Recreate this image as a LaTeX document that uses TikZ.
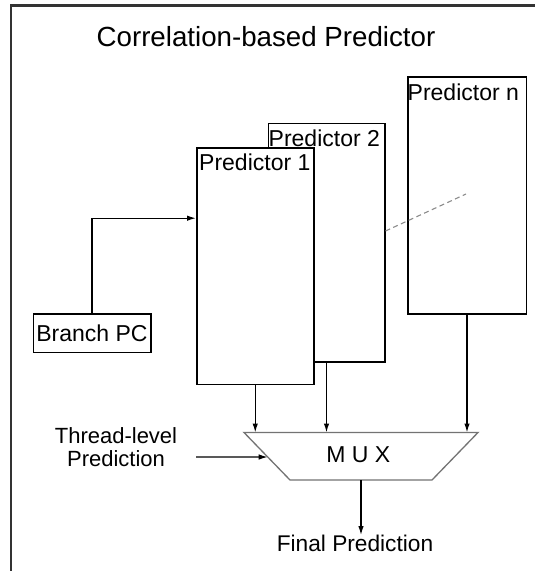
\documentclass[tikz,border=0pt]{standalone}
\usepackage{fontspec}
\setmainfont{Liberation Sans}
\usetikzlibrary{arrows.meta,calc}

\tikzset{
  predbox/.style={draw=black, fill=white, line width=1.5pt, inner sep=0pt, anchor=north west},
  lbl/.style={inner sep=0pt, font=\fontsize{23}{27}\selectfont},
  conn/.style={draw=black, line width=1.3pt},
  arr/.style={conn, -{Latex[length=9pt,width=5.5pt]}},
  frameline/.style={draw=black!80, line width=2.4pt},
}

\begin{document}
\begin{tikzpicture}[x=1pt,y=-1pt]
\useasboundingbox (0,0) rectangle (535,571);
\fill[white] (0,0) rectangle (535,571);

% enclosing frame (open to the right and bottom)
\draw[frameline] (11,571) -- (11,5.5) -- (535,5.5);

% title
\node[lbl, font=\fontsize{27.7}{32}\selectfont, anchor=base] (title) at (266,46.7) {Correlation-based Predictor};

% predictor tables, back to front
\node[predbox, minimum width=118.5pt, minimum height=237pt,
      label={[lbl, name=pnl, anchor=base west, xshift=0.5pt, yshift=-24.7pt]north west:Predictor n}]
      (pn) at (407,76) {};
\node[predbox, minimum width=116.5pt, minimum height=238.5pt,
      label={[lbl, name=p2l, anchor=base west, xshift=1pt, yshift=-23.5pt]north west:Predictor 2}]
      (p2) at (267.5,122.5) {};
\node[predbox, minimum width=117pt, minimum height=236.5pt,
      label={[lbl, name=p1l, anchor=base west, xshift=3pt, yshift=-23.5pt]north west:Predictor 1}]
      (p1) at (196,147) {};

% elided predictors
\draw[draw=black!45, line width=1.1pt, dash pattern=on 5pt off 3.5pt]
  (p2.east |- 0,231) coordinate (dotsa) -- (466,194) coordinate (dotsb);

% branch PC input
\node[predbox, minimum width=117.5pt, minimum height=38.5pt, font=\fontsize{23}{27}\selectfont]
      (pc) at (32.5,313) {Branch PC};
\coordinate (pcbend) at (92,218.2);
\draw[arr] (pc.north -| pcbend) -- (pcbend) -- (p1.west |- pcbend);

% multiplexer
\coordinate (mtl) at (244,432.5);
\coordinate (mtr) at (478,432.5);
\coordinate (mbr) at (432,480);
\coordinate (mbl) at (290,480);
\draw[draw=black!55, line width=1.3pt, line join=miter] (mtl) -- (mtr) -- (mbr) -- (mbl) -- cycle;
\node[lbl, anchor=base] (mux) at (358.4,462) {M U X};

% predictor outputs into the multiplexer
\draw[arr] (p1.south) -- (p1.south |- mtl);
\draw[arr] (p2.south) -- (p2.south |- mtl);
\draw[arr] (pn.south) -- (pn.south |- mtl);

% thread-level select input
\node[inner sep=0pt, align=center, font=\fontsize{22}{23.4}\selectfont, anchor=north]
      (tl) at (116,427) {Thread-level\\Prediction};
\coordinate (tlout) at (196,457);
\coordinate (muxsel) at ($(mtl)!0.516!(mbl)$);
\draw[arr] (tlout) -- (muxsel);

% final output
\node[inner sep=0pt, font=\fontsize{22.7}{27}\selectfont, anchor=base] (fp) at (355,551.7) {Final Prediction};
\coordinate (mbc) at ($(mbl)!0.5!(mbr)$);
\draw[arr] (mbc) -- (fp.north -| mbc);
\end{tikzpicture}
\end{document}
